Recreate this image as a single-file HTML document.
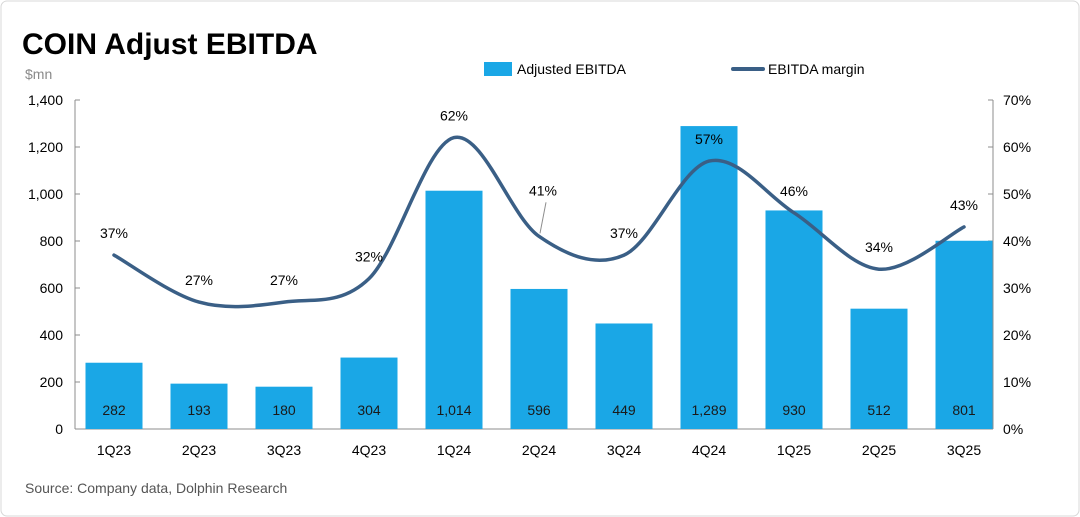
<!DOCTYPE html>
<html><head><meta charset="utf-8"><style>
html,body{margin:0;padding:0;background:#fff;}
svg{display:block;font-family:"Liberation Sans",sans-serif;}
</style></head><body>
<svg id="c" width="1080" height="517" viewBox="0 0 1080 517">
<rect x="1" y="1" width="1078" height="515" rx="6" fill="#fff" stroke="#d8d8d8"/>
<text x="22" y="54" font-size="30" font-weight="bold" fill="#000">COIN Adjust EBITDA</text>
<text x="25" y="79" font-size="14" fill="#8a8a8a">$mn</text>
<g>
<rect x="484" y="62" width="28" height="14" fill="#1aa7e6"/>
<text x="517" y="74" font-size="14" fill="#000">Adjusted EBITDA</text>
<line x1="733" y1="69" x2="763" y2="69" stroke="#3a5f86" stroke-width="4" stroke-linecap="round"/>
<text x="768" y="74" font-size="14" fill="#000">EBITDA margin</text>
</g>
<text x="25" y="493" font-size="14" fill="#555">Source: Company data, Dolphin Research</text>
<g id="plot"></g>
</svg>
<script>
const categories=["1Q23","2Q23","3Q23","4Q23","1Q24","2Q24","3Q24","4Q24","1Q25","2Q25","3Q25"];
const ebitda=[282,193,180,304,1014,596,449,1289,930,512,801];
const ebitdaLabels=["282","193","180","304","1,014","596","449","1,289","930","512","801"];
const margin=[37,27,27,32,62,41,37,57,46,34,43];
const leftTicks=[0,200,400,600,800,1000,1200,1400];
const rightTicks=[0,10,20,30,40,50,60,70];

const NS="http://www.w3.org/2000/svg";
const g=document.getElementById('plot');
const X0=75,X1=993,Y0=429,Y1=100;
const yL=v=>Y0-(v/1400)*(Y0-Y1);
const yR=v=>Y0-(v/70)*(Y0-Y1);
const step=85;
const xC=i=>114+step*i;
function el(t,a,txt){const e=document.createElementNS(NS,t);for(const k in a)e.setAttribute(k,a[k]);if(txt!=null)e.textContent=txt;g.appendChild(e);return e;}

let e=el('line',{x1:X0,y1:Y1,x2:X0,y2:Y0,stroke:'#8c8c8c'});


e=el('line',{x1:X1,y1:Y1,x2:X1,y2:Y0,stroke:'#8c8c8c'});


e=el('line',{x1:X0,y1:Y0,x2:X1,y2:Y0,stroke:'#8c8c8c'});


leftTicks.forEach(v=>{
 e=el('text',{x:X0-12,y:yL(v)+5,'font-size':14,'text-anchor':'end',fill:'#000'},v.toLocaleString('en-US'));
 
 
 el('line',{x1:X0,y1:yL(v),x2:X0+5,y2:yL(v),stroke:'#8c8c8c'});
});
rightTicks.forEach(v=>{
 e=el('text',{x:X1+10,y:yR(v)+5,'font-size':14,fill:'#000'},v+'%');
 
 
 el('line',{x1:X1-5,y1:yR(v),x2:X1,y2:yR(v),stroke:'#8c8c8c'});
});
const bw=57;
categories.forEach((c,i)=>{
 e=el('rect',{x:xC(i)-bw/2,y:yL(ebitda[i]),width:bw,height:Y0-yL(ebitda[i]),fill:'#1aa7e6'});
 
 
 e=el('text',{x:xC(i),y:415,'font-size':14,'text-anchor':'middle',fill:'#1a1a1a'},ebitdaLabels[i]);
 
 
 e=el('text',{x:xC(i),y:455,'font-size':14,'text-anchor':'middle',fill:'#000'},c);
 
 
});
const pts=margin.map((m,i)=>[xC(i),yR(m)]);
let d='M'+pts[0][0]+','+pts[0][1];
for(let i=0;i<pts.length-1;i++){
 const p0=pts[Math.max(0,i-1)],p1=pts[i],p2=pts[i+1],p3=pts[Math.min(pts.length-1,i+2)];
 const t=6;
 d+=' C'+(p1[0]+(p2[0]-p0[0])/t)+','+(p1[1]+(p2[1]-p0[1])/t)+' '+(p2[0]-(p3[0]-p1[0])/t)+','+(p2[1]-(p3[1]-p1[1])/t)+' '+p2[0]+','+p2[1];
}
e=el('path',{d:d,fill:'none',stroke:'#3a5f86','stroke-width':3.5,'stroke-linecap':'round'});


margin.forEach((m,i)=>{
 let lx=xC(i),ly=yR(m)-17;
 if(i===5){lx=xC(i)+4;ly=yR(m)-41;el('line',{x1:lx+3,y1:ly+7,x2:xC(i)+1,y2:yR(m)-3,stroke:'#8c8c8c'});}
 e=el('text',{x:lx,y:ly,'font-size':14,'text-anchor':'middle',fill:'#000'},m+'%');
 
 
});
</script>
</body></html>
